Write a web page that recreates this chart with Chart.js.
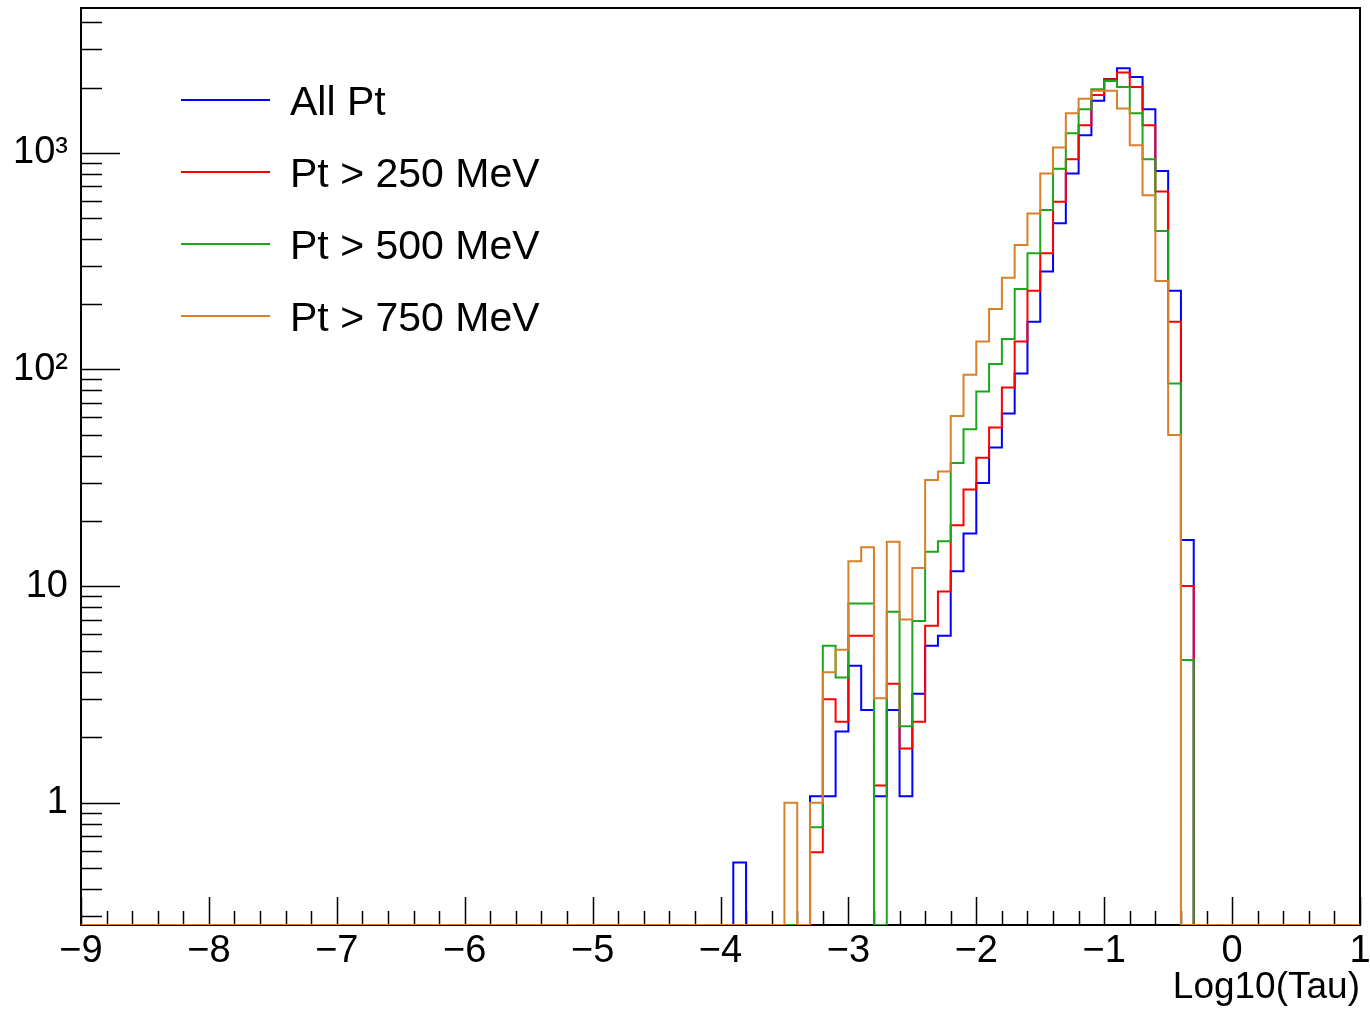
<!DOCTYPE html>
<html>
<head>
<meta charset="utf-8">
<title>Log10(Tau)</title>
<script src="https://cdn.jsdelivr.net/npm/chart.js@4.4.0/dist/chart.umd.min.js"></script>
<style>
  html, body { margin: 0; padding: 0; background: #fff; }
  #wrap { width: 1370px; height: 1010px; }
</style>
</head>
<body>
<div id="wrap"><canvas id="tauChart" width="1370" height="1010"></canvas></div>
<script>
// histogram binning: 100 bins of 0.1 from -9 to 1
const X_MIN = -9;
const X_MAX = 1;
const BIN_W = 0.1;
// stored bins start at this left edge (everything outside is empty)
const FIRST_EDGE = -4.0;

// bin contents, bins -4.0 ... -0.3
const allPt = [0, 0.53, 0, 0, 0, 0, 0, 1.07, 1.07, 2.13, 4.29, 2.68, 1.07, 2.68, 1.07, 3.18, 5.3, 5.9, 11.7, 17.5,
  29.9, 43.6, 62.6, 95.7, 166, 283, 473, 802, 1206, 1737, 2190, 2456, 2240, 1589, 825, 231, 16.3, 0];
const pt250 = [0, 0, 0, 0, 0, 0, 0, 0.59, 3.0, 2.36, 5.9, 5.9, 1.2, 3.54, 1.78, 2.36, 6.56, 9.44, 19.1, 27.9,
  39.1, 54, 82.5, 134.5, 231, 344, 595, 934, 1340, 1850, 2187, 2345, 2014, 1340, 662, 166, 10.0, 0];
const pt500 = [0, 0, 0, 0, 0, 0, 0, 0.77, 5.3, 3.78, 8.3, 8.3, 0, 7.6, 2.25, 6.9, 14.4, 16.1, 37, 53,
  79, 106, 138, 235, 344, 545, 845, 1231, 1589, 1965, 2147, 2014, 1523, 934, 436, 86.1, 4.55, 0];
const pt750 = [0, 0, 0, 0, 0, 1.0, 0, 1.0, 4.0, 5.08, 13.0, 15.1, 3.03, 16.0, 7.0, 12.1, 30.9, 33.8, 61, 94.4,
  134.5, 190, 265, 375, 524, 802, 1057, 1523, 1778, 1932, 1932, 1600, 1084, 637, 256, 49.8, 0, 0];

const seriesLabels = ['All Pt', 'Pt > 250 MeV', 'Pt > 500 MeV', 'Pt > 750 MeV'];
const seriesColors = ['#0000ff', '#ff0000', '#1ea51e', '#d9802b'];

// y axis (log)
const Y_MIN = 0.2724;
const Y_MAX = 4660;
const yTickValues = [1, 10, 100, 1000];
const yTickLabels = ['1', '10', '10\u00b2', '10\u00b3'];

const FONT = '"Liberation Sans", Arial, Helvetica, sans-serif';

// turn bin contents into an outline (left edge / right edge per bin)
function histPoints(values) {
  const nBins = Math.round((X_MAX - X_MIN) / BIN_W);
  const offset = Math.round((FIRST_EDGE - X_MIN) / BIN_W);
  const pts = [];
  for (let k = 0; k < nBins; k++) {
    const j = k - offset;
    let v = (j >= 0 && j < values.length) ? values[j] : 0;
    if (v <= 0) v = Y_MIN; // empty bins sit on the axis, like ROOT does
    const lo = +(X_MIN + k * BIN_W).toFixed(2);
    const hi = +(X_MIN + (k + 1) * BIN_W).toFixed(2);
    pts.push({ x: lo, y: v }, { x: hi, y: v });
  }
  return pts;
}

const allSeries = [allPt, pt250, pt500, pt750];

// frame + inward ticks, ROOT style
const rootFrame = {
  id: 'rootFrame',
  beforeDatasetsDraw(chart) {
    const { ctx, chartArea: a, scales: { x, y } } = chart;
    ctx.save();
    ctx.strokeStyle = '#000';
    ctx.lineWidth = 2;
    ctx.strokeRect(a.left, a.top, a.right - a.left, a.bottom - a.top);

    ctx.lineWidth = 1.5;
    ctx.beginPath();
    // x ticks every 0.2, major every 1
    for (let k = 0; k <= 50; k++) {
      const v = X_MIN + k * 0.2;
      const px = Math.round(x.getPixelForValue(v)) + 0.5;
      const len = (k % 5 === 0) ? 28 : 14;
      ctx.moveTo(px, a.bottom);
      ctx.lineTo(px, a.bottom - len);
    }
    // y ticks: 1..9 per decade
    for (let d = -1; d <= 3; d++) {
      for (let m = 1; m <= 9; m++) {
        const v = m * Math.pow(10, d);
        if (v < Y_MIN || v > Y_MAX) continue;
        const py = Math.round(y.getPixelForValue(v)) + 0.5;
        const len = (m === 1) ? 39 : 21;
        ctx.moveTo(a.left, py);
        ctx.lineTo(a.left + len, py);
      }
    }
    ctx.stroke();
    ctx.restore();
  },
  afterDraw(chart) {
    // legend box (no border), as in the original
    const { ctx } = chart;
    ctx.save();
    ctx.font = '41px ' + FONT;
    ctx.textBaseline = 'alphabetic';
    ctx.textAlign = 'left';
    seriesLabels.forEach((lab, i) => {
      const yy = 100 + i * 72;
      ctx.strokeStyle = seriesColors[i];
      ctx.lineWidth = 2;
      ctx.beginPath();
      ctx.moveTo(181, yy);
      ctx.lineTo(270, yy);
      ctx.stroke();
      ctx.fillStyle = '#000';
      ctx.fillText(lab, 290, yy + 15);
    });
    ctx.restore();
  }
};

new Chart(document.getElementById('tauChart').getContext('2d'), {
  type: 'line',
  data: {
    datasets: allSeries.map((vals, i) => ({
      label: seriesLabels[i],
      data: histPoints(vals),
      borderColor: seriesColors[i],
      borderWidth: 2,
      pointRadius: 0,
      fill: false,
      tension: 0,
      order: allSeries.length - 1 - i
    }))
  },
  options: {
    responsive: false,
    animation: false,
    layout: { padding: { top: 8, right: 10, left: 0, bottom: 0 } },
    plugins: {
      legend: { display: false },
      tooltip: { enabled: false }
    },
    scales: {
      x: {
        type: 'linear',
        min: X_MIN,
        max: X_MAX,
        grid: { display: false, drawTicks: false },
        border: { display: false },
        ticks: {
          stepSize: 1,
          autoSkip: false,
          maxRotation: 0,
          padding: 4,
          color: '#000',
          font: { family: FONT, size: 38 },
          callback: v => (v < 0 ? '\u2212' + Math.abs(v) : String(v))
        },
        title: {
          display: true,
          text: 'Log10(Tau)',
          align: 'end',
          color: '#000',
          font: { family: FONT, size: 37 },
          padding: { top: 3, bottom: 0 }
        },
        afterFit: s => { s.height = 85; s.paddingLeft = 0; s.paddingRight = 0; }
      },
      y: {
        type: 'logarithmic',
        min: Y_MIN,
        max: Y_MAX,
        grid: { display: false, drawTicks: false },
        border: { display: false },
        ticks: {
          padding: 13,
          color: '#000',
          font: { family: FONT, size: 38 },
          callback: v => {
            const i = yTickValues.indexOf(v);
            return i >= 0 ? yTickLabels[i] : '';
          }
        },
        afterBuildTicks: s => { s.ticks = yTickValues.map(v => ({ value: v })); },
        afterFit: s => { s.width = 81; s.paddingTop = 0; s.paddingBottom = 0; }
      }
    }
  },
  plugins: [rootFrame]
});
</script>
</body>
</html>
